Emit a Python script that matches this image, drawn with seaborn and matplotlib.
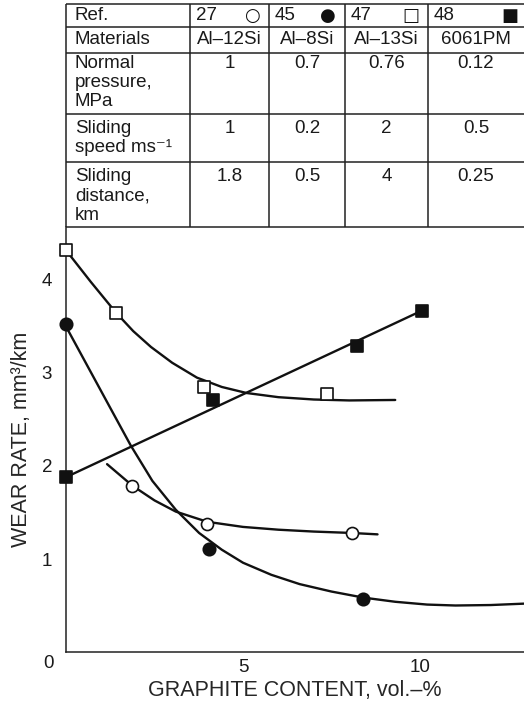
import matplotlib
matplotlib.use("Agg")
import matplotlib.pyplot as plt
import seaborn as sns
import pandas as pd

# ---------------- data ----------------
# measured points
al13_x = [0.0, 1.41, 3.90, 7.37]          # Ref 47, open squares
al13_y = [4.32, 3.65, 2.85, 2.77]
pm6061_x = [0.0, 4.15, 8.23, 10.05]       # Ref 48, filled squares
pm6061_y = [1.88, 2.71, 3.29, 3.67]
al8_x = [0.0, 4.04, 8.40]                 # Ref 45, filled circles
al8_y = [3.53, 1.11, 0.57]
al12_x = [1.87, 3.99, 8.07]               # Ref 27, open circles
al12_y = [1.79, 1.38, 1.28]

# hand-drawn trend curves
al13_fit_x = [0.0, 0.7, 1.41, 1.9, 2.4, 3.0, 3.7, 4.4, 5.1, 6.0, 7.0, 8.0, 9.3]
al13_fit_y = [4.32, 3.98, 3.65, 3.45, 3.28, 3.11, 2.95, 2.85, 2.785, 2.74, 2.715, 2.705, 2.71]
pm6061_fit_x = [0.0, 10.05]
pm6061_fit_y = [1.88, 3.67]
al8_fit_x = [0.0, 0.6, 1.2, 1.83, 2.44, 3.1, 3.76, 4.4, 5.0, 5.8, 6.6, 7.5, 8.4, 9.3, 10.2, 11.0, 12.0, 12.94]
al8_fit_y = [3.50, 3.08, 2.66, 2.22, 1.84, 1.53, 1.28, 1.10, 0.96, 0.83, 0.73, 0.65, 0.585, 0.54, 0.51, 0.50, 0.505, 0.52]
al12_fit_x = [1.16, 1.87, 2.5, 3.1, 3.99, 5.0, 6.0, 7.0, 8.07, 8.8]
al12_fit_y = [2.02, 1.79, 1.63, 1.51, 1.40, 1.345, 1.315, 1.295, 1.28, 1.265]

# table contents
refs = ["27", "45", "47", "48"]
ref_symbols = ["\u25CB", "\u25CF", "\u25A1", "\u25A0"]
materials = ["Al\u201312Si", "Al\u20138Si", "Al\u201313Si", "6061PM"]
pressure = ["1", "0.7", "0.76", "0.12"]
speed = ["1", "0.2", "2", "0.5"]
distance = ["1.8", "0.5", "4", "0.25"]
row_labels = [["Ref."], ["Materials"], ["Normal", "pressure,", "MPa"],
              ["Sliding", "speed ms\u207B\u00B9"], ["Sliding", "distance,", "km"]]

x_ticks = [5, 10]
y_ticks = [1, 2, 3, 4]
x_label = "GRAPHITE CONTENT, vol.\u2013%"
y_label = "WEAR RATE, mm\u00B3/km"

# ---------------- figure ----------------
sns.set_style("white")
FONT = ["Liberation Sans", "DejaVu Sans"]
plt.rcParams["font.family"] = FONT
plt.rcParams["text.color"] = "#1a1a1a"

W, H = 524, 706
fig = plt.figure(figsize=(W / 100, H / 100), dpi=100)

x0_px, y0_px, ytop_px = 66, 652, 227
px_per_x, px_per_y = 35.4, 93.0
ax = fig.add_axes([x0_px / W, (H - y0_px) / H, (W - x0_px) / W, (y0_px - ytop_px) / H])
ax.set_xlim(0, (W - x0_px) / px_per_x)
ax.set_ylim(0, (y0_px - ytop_px) / px_per_y)

K = "#111111"
LW = 1.7
for fx, fy in [(al13_fit_x, al13_fit_y), (pm6061_fit_x, pm6061_fit_y),
               (al8_fit_x, al8_fit_y), (al12_fit_x, al12_fit_y)]:
    sns.lineplot(x=fx, y=fy, sort=False, color=K, lw=LW, ax=ax, clip_on=False,
                 estimator=None)

def pts(x, y, marker, face, s):
    sns.scatterplot(x=x, y=y, marker=marker, s=s, facecolor=face, edgecolor=K,
                    linewidth=1.2, ax=ax, clip_on=False, zorder=5)

pts(al13_x, al13_y, "s", "white", 85)
pts(pm6061_x, pm6061_y, "s", K, 85)
pts(al8_x, al8_y, "o", K, 80)
pts(al12_x, al12_y, "o", "white", 75)

for side in ["top", "right"]:
    ax.spines[side].set_visible(False)
for side in ["left", "bottom"]:
    ax.spines[side].set_linewidth(1.1)
    ax.spines[side].set_color("#222222")
ax.set_xticks(x_ticks)
ax.set_yticks(y_ticks)
ax.tick_params(axis="both", direction="in", length=9, width=1.1, color="#222222",
               labelsize=13.5, labelcolor="#1a1a1a")
ax.tick_params(axis="y", pad=10)
ax.tick_params(axis="x", pad=5)
ax.set_xlabel(x_label, fontsize=15.5, labelpad=3)
ax.set_ylabel(y_label, fontsize=15.5, labelpad=7)
ax.text(-18 / (W - x0_px), -11 / (y0_px - ytop_px), "0", transform=ax.transAxes,
        ha="center", va="center", fontsize=13.5)

# ---------------- table (pixel coordinates overlay) ----------------
ov = fig.add_axes([0, 0, 1, 1], facecolor="none")
ov.set_xlim(0, W)
ov.set_ylim(H, 0)
ov.axis("off")
row_y = [3.5, 27, 53, 114, 162, 227]
col_x = [66, 190, 269, 345, 428, 524]
lc = "#222222"
ov.hlines(row_y, col_x[0], W + 10, color=lc, lw=1.1)
ov.vlines(col_x[:-1], row_y[0], row_y[-1], color=lc, lw=1.1)

FS = 13.5
line_gap = 19.5
first_line = [15.5, 39.5, 63, 128.5, 176.5]
for r, lines in enumerate(row_labels):
    for k, t in enumerate(lines):
        ov.text(75, first_line[r] + k * line_gap, t, ha="left", va="center",
                fontsize=FS, family=FONT)

for i in range(4):
    left, right = col_x[i + 1], col_x[i + 2]
    center = (left + right) / 2 if i < 3 else 476
    sym_x = right - 17 if i < 3 else 510
    ov.text(left + 6, first_line[0], refs[i], ha="left", va="center", fontsize=FS)
    ov.text(sym_x, first_line[0] + 0.5, ref_symbols[i],
            ha="center", va="center", fontsize=13, family=["DejaVu Sans"], color=K)
    for r, vals in zip([1, 2, 3, 4], [materials, pressure, speed, distance]):
        ov.text(center, first_line[r], vals[i], ha="center", va="center", fontsize=FS)

fig.savefig("out.png", dpi=100)
